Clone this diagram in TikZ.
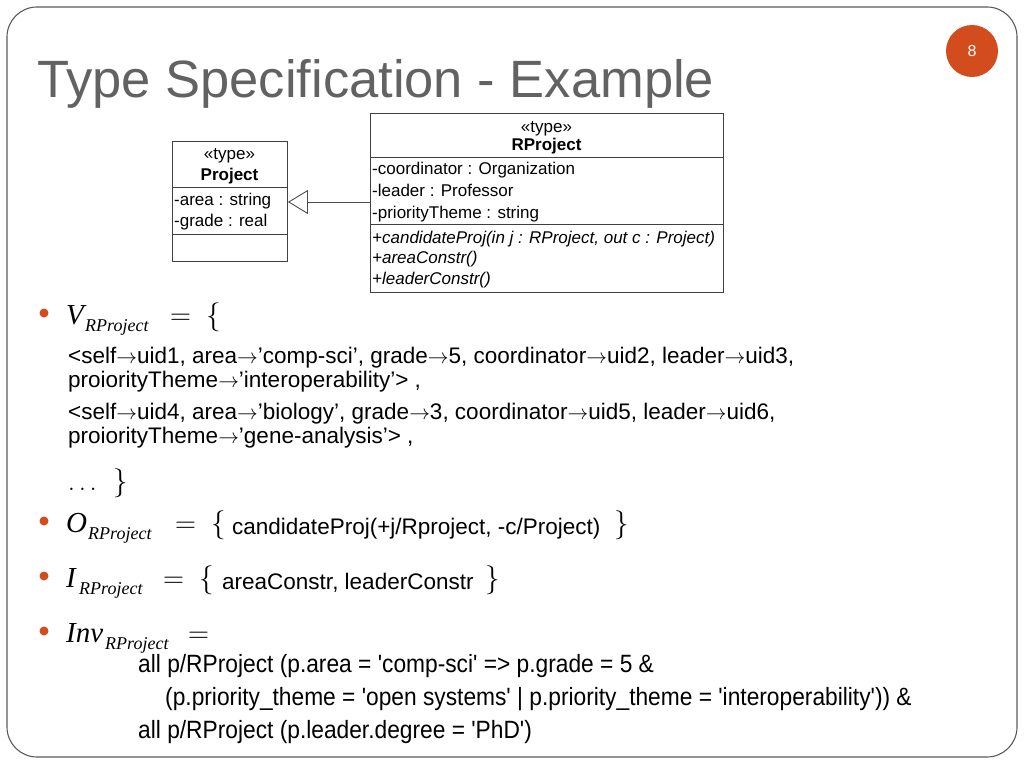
\documentclass[tikz,border=0pt]{standalone}
\usepackage{fontspec}
\setmainfont{Liberation Sans}
\newfontfamily\narrowfont[FakeStretch=0.91]{Liberation Sans}
\newfontfamily\lmr{Latin Modern Roman}
\newfontfamily\tms{Liberation Serif}
\usetikzlibrary{arrows.meta}
\definecolor{accent}{RGB}{210,76,30}
\definecolor{titlegray}{RGB}{98,98,98}
\definecolor{framegray}{RGB}{90,90,90}
\newcommand{\ar}{\ensuremath{\rightarrow}}
\tikzset{
  uml/.style={font=\fontsize{17}{20}\selectfont, anchor=base west, inner sep=0pt},
  umlc/.style={font=\fontsize{17}{20}\selectfont, anchor=base, inner sep=0pt},
  body/.style={font=\fontsize{22.5}{26}\selectfont, anchor=base west, inner sep=0pt},
  narrow/.style={font=\narrowfont\fontsize{25}{29}\selectfont, anchor=base west, inner sep=0pt},
  bigit/.style={font=\tms\itshape\fontsize{29}{34}\selectfont, anchor=base west, inner sep=0pt},
  subit/.style={font=\tms\itshape\fontsize{18}{21}\selectfont, anchor=base west, inner sep=0pt},
  bigrm/.style={font=\lmr\fontsize{29}{34}\selectfont, anchor=base west, inner sep=0pt},
  bulletdot/.style={circle, fill=accent, inner sep=0pt, minimum size=9pt},
  box/.style={draw=black!75, line width=0.9pt, inner sep=0pt, anchor=north west},
  divider/.style={black!75, line width=0.9pt}
}
\begin{document}
\begin{tikzpicture}[x=1pt,y=-1pt]
\useasboundingbox (0,0) rectangle (1024,768);
% frame
\draw[framegray, line width=1.1pt, rounded corners=30pt] (7,7) rectangle (1017,757);
% page number
\node[circle, fill=accent, minimum size=52pt, inner sep=0pt] (pn) at (972,51) {};
\node[text=white, font=\fontsize{16}{18}\selectfont] (pnum) at (pn.center) {8};
% title
\node[anchor=base west, inner sep=0pt, text=titlegray, font=\fontsize{52.5}{60}\selectfont] (title) at (37,97) {Type Specification - Example};

% UML Project
\node[box, minimum width=115pt, minimum height=120pt] (proj) at (172,141) {};
\draw[divider] (proj.west |- 0,187) -- (proj.east |- 0,187);
\draw[divider] (proj.west |- 0,234) -- (proj.east |- 0,234);
\node[umlc] (pst) at (229.5,159) {«type»};
\node[umlc, font=\fontsize{17}{20}\selectfont\bfseries] (pname) at (229.5,180) {Project};
\node[uml] (pa1) at (174,205) {-area : string};
\node[uml] (pa2) at (174,226) {-grade : real};

% UML RProject
\node[box, minimum width=353pt, minimum height=179pt] (rproj) at (370,113) {};
\draw[divider] (rproj.west |- 0,157.5) -- (rproj.east |- 0,157.5);
\draw[divider] (rproj.west |- 0,224) -- (rproj.east |- 0,224);
\node[umlc] (rst) at (546.5,132) {«type»};
\node[umlc, font=\fontsize{17}{20}\selectfont\bfseries] (rname) at (546.5,150) {RProject};
\node[uml] (ra1) at (372,174.5) {-coordinator : Organization};
\node[uml] (ra2) at (372,196.5) {-leader : Professor};
\node[uml] (ra3) at (372,218) {-priorityTheme : string};
\node[uml, font=\fontsize{17}{20}\selectfont\itshape] (ro1) at (372,243) {+candidateProj(in j : RProject, out c : Project)};
\node[uml, font=\fontsize{17}{20}\selectfont\itshape] (ro2) at (372,263.5) {+areaConstr()};
\node[uml, font=\fontsize{17}{20}\selectfont\itshape] (ro3) at (372,284.5) {+leaderConstr()};

% generalization
\draw[black!70, line width=0.9pt, -{Triangle[open, length=20pt, width=24pt, fill=white]}] (rproj.west |- 0,202) -- (proj.east |- 0,202);

% bullets
\node[bulletdot] (b1) at (44,313) {};
\node[bulletdot] (b2) at (44,521) {};
\node[bulletdot] (b3) at (44,576) {};
\node[bulletdot] (b4) at (44,631) {};

% V
\node[bigit] (v) at (66,324) {V};
\node[subit] (vsub) at (85,331) {RProject};
\node[bigrm] (veq) at (170,324) {=};
\node[bigrm] (vbr) at (206,324) {\{};
\node[body] (l1) at (68,363) {<self\ar uid1, area\ar’comp-sci’, grade\ar 5, coordinator\ar uid2, leader\ar uid3,};
\node[body] (l2) at (68,387.5) {proiorityTheme\ar’interoperability’> ,};
\node[body] (l3) at (68,419) {<self\ar uid4, area\ar’biology’, grade\ar 3, coordinator\ar uid5, leader\ar uid6,};
\node[body] (l4) at (68,443.5) {proiorityTheme\ar’gene-analysis’> ,};
\node[bigrm] (dots) at (68,490) {$\ldots$};
\node[bigrm] (vend) at (113,490) {\}};

% O
\node[bigit] (o) at (66,532) {O};
\node[subit] (osub) at (88,539) {RProject};
\node[bigrm] (oeq) at (175,532) {=};
\node[bigrm] (obr) at (211,532) {\{};
\node[body] (otext) at (232,534) {candidateProj(+j/Rproject, -c/Project)};
\node[bigrm] (oend) at (614,532) {\}};

% I
\node[bigit] (i) at (66,587) {I};
\node[subit] (isub) at (79,594) {RProject};
\node[bigrm] (ieq) at (163,587) {=};
\node[bigrm] (ibr) at (199,587) {\{};
\node[body] (itext) at (222,589) {areaConstr, leaderConstr};
\node[bigrm] (iend) at (485,587) {\}};

% Inv
\node[bigit] (inv) at (66,642) {Inv};
\node[subit] (invsub) at (105,649) {RProject};
\node[bigrm] (inveq) at (188,642) {=};
\node[narrow] (c1) at (138,672) {all p/RProject (p.area = 'comp-sci' => p.grade = 5 \&};
\node[narrow] (c2) at (165,705) {(p.priority\_theme = 'open systems' | p.priority\_theme = 'interoperability')) \&};
\node[narrow] (c3) at (138,738) {all p/RProject (p.leader.degree = 'PhD')};
\end{tikzpicture}
\end{document}
